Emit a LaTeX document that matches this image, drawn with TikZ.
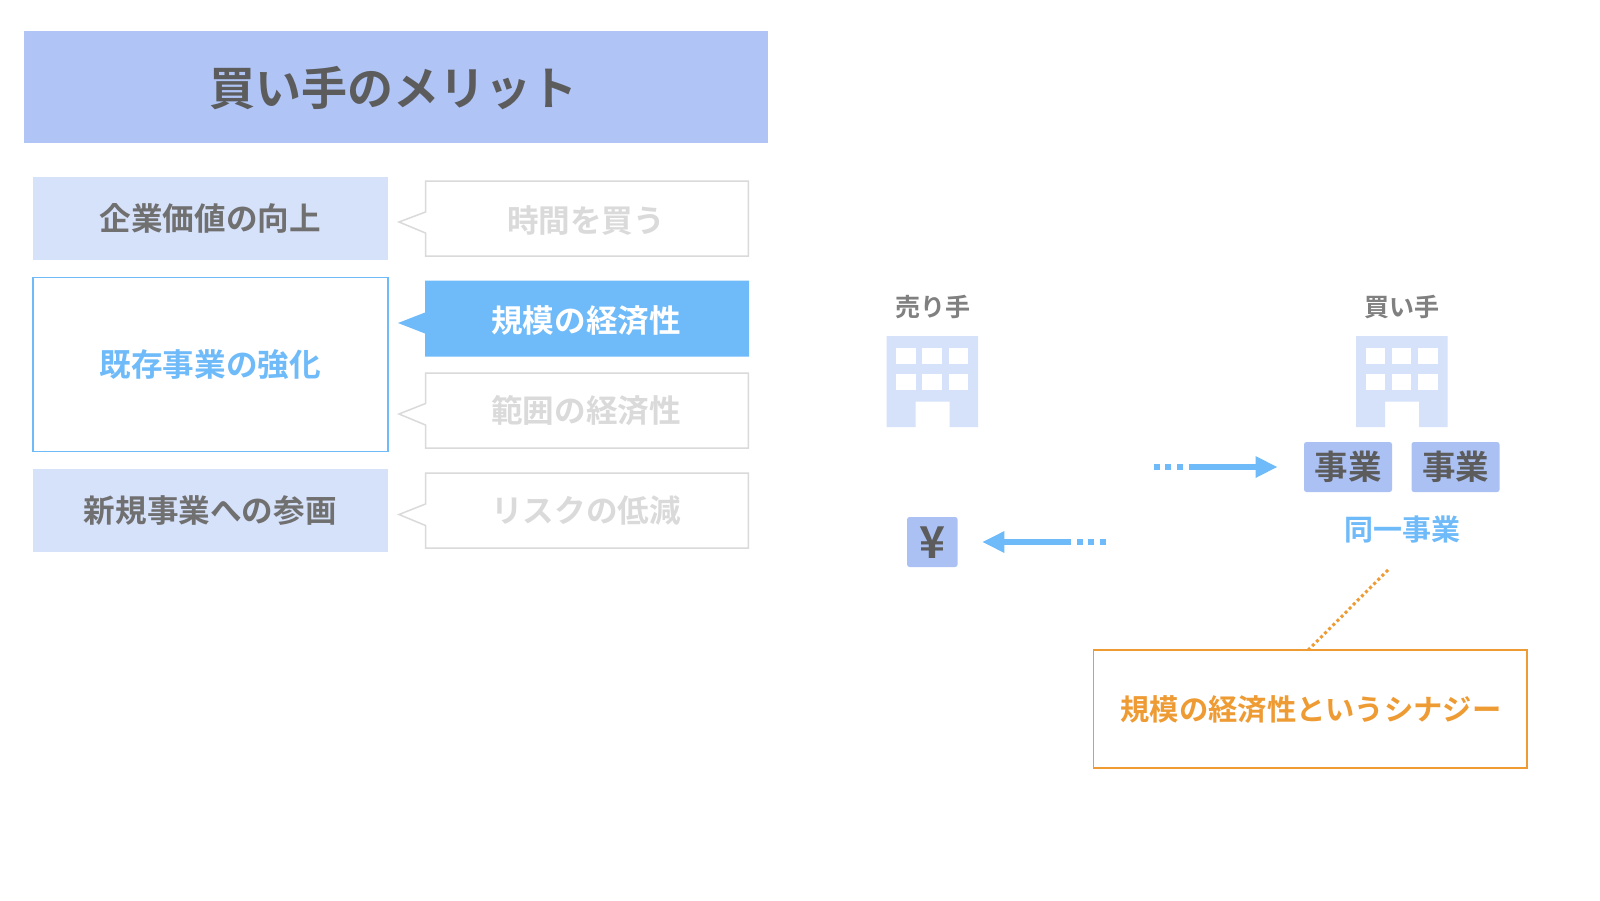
\documentclass[tikz,border=0pt]{standalone}
\usepackage{fontspec}
\setmainfont{Noto Sans CJK JP}[BoldFont={Noto Sans CJK JP Bold}]
\usetikzlibrary{calc}
\definecolor{peri}{HTML}{B0C4F6}
\definecolor{tileblue}{HTML}{ABC1F4}
\definecolor{paleperi}{HTML}{D6E1FA}
\definecolor{sky}{HTML}{6FBBF9}
\definecolor{darkgray}{HTML}{5C5C5C}
\definecolor{midgray}{HTML}{707070}
\definecolor{softgray}{HTML}{808080}
\definecolor{faded}{HTML}{DADADA}
\definecolor{amber}{HTML}{EE9B34}
\tikzset{
  x=1pt,y=-1pt,
  txt/.style={font=\bfseries\fontsize{#1}{#1}\selectfont,inner sep=0pt,outer sep=0pt,text height=0.86*#1pt,text depth=0.1*#1pt},
  flat/.style={rectangle,inner sep=0pt,outer sep=0pt,draw=none},
  callout/.style={draw=faded,line width=1.5pt,fill=white,line join=miter},
  calloutactive/.style={fill=sky,draw=none},
  tile/.style={fill=tileblue,rounded corners=2.5pt,draw=none},
  winglass/.style={fill=white,draw=none},
  shaft/.style={draw=sky,line width=5.6pt},
  tipfill/.style={fill=sky,draw=none},
}
\newcommand{\bldg}[2]{% name, left x
  \fill[paleperi] (#1,336)--(#1+91.5,336)--(#1+91.5,427)--(#1+63,427)--(#1+63,401.5)--(#1+29,401.5)--(#1+29,427)--(#1,427)--cycle;
  \foreach \wx in {9.5,35.5,62}{
    \foreach \wy in {348,374}{
      \fill[winglass] (#1+\wx,\wy) rectangle ++(19.7,16);
    }
  }
}
\begin{document}
\begin{tikzpicture}
\useasboundingbox (0,0) rectangle (1600,900);
\fill[white] (0,0) rectangle (1600,900);
% title
\node[flat,fill=peri,minimum width=743.5pt,minimum height=112pt] (title) at (395.8,87) {};
\node[txt=46,text=darkgray] (titlet) at (393.5,88) {買い手のメリット};
% left column
\node[flat,fill=paleperi,minimum width=355pt,minimum height=83pt] (l1) at (210.3,218.5) {};
\node[txt=31.6,text=midgray] at (l1) {企業価値の向上};
\node[flat,draw=sky,line width=1.5pt,fill=white,minimum width=355pt,minimum height=174pt] (l2) at (210.3,364.5) {};
\node[txt=31.6,text=sky] at (l2) {既存事業の強化};
\node[flat,fill=paleperi,minimum width=355pt,minimum height=83pt] (l3) at (210.3,510.5) {};
\node[txt=31.6,text=midgray] at (l3) {新規事業への参画};
% callouts
\draw[callout] (425.5,181)--(748.4,181)--(748.4,256)--(425.5,256)--(425.5,233)--(399,222)--(425.5,212)--cycle;
\node[txt=31.6,text=faded] (c1) at (586,220) {時間を買う};
\fill[calloutactive] (425,280.5)--(749,280.5)--(749,356.5)--(425,356.5)--(425,333.5)--(398,323)--(425,312.5)--cycle;
\node[txt=31.6,text=white] (c2) at (586,320) {規模の経済性};
\draw[callout] (425.5,373)--(748.4,373)--(748.4,448)--(425.5,448)--(425.5,425)--(399,414)--(425.5,403.5)--cycle;
\node[txt=31.6,text=faded] (c3) at (586,410) {範囲の経済性};
\draw[callout] (425.5,473)--(748.4,473)--(748.4,548)--(425.5,548)--(425.5,525.5)--(399,514.5)--(425.5,504)--cycle;
\node[txt=31.6,text=faded] (c4) at (586,510) {リスクの低減};
% right side
\node[txt=25,text=softgray] (seller) at (932.5,306.5) {売り手};
\node[txt=25,text=softgray] (buyer) at (1401.6,306.5) {買い手};
\bldg{886.5}{}
\bldg{1356}{}
\node[flat,tile,minimum width=88pt,minimum height=50pt] (b1) at (1348,467) {};
\node[txt=33.5,text=darkgray] at (b1) {事業};
\node[flat,tile,minimum width=88pt,minimum height=50pt] (b2) at (1455.5,467) {};
\node[txt=33.5,text=darkgray] at (b2) {事業};
\node[flat,tile,minimum width=50.5pt,minimum height=50pt] (yen) at (932.3,542) {};
\node[txt=44,text=darkgray] at (yen) {¥};
\node[txt=29,text=sky] (same) at (1402,529) {同一事業};
% arrows
\coordinate (ra0) at (1153.6,467);
\coordinate (ra1) at (1188.7,467);
\coordinate (ra2) at (1255.5,467);
\coordinate (ra3) at (1277,467);
\draw[shaft,dash pattern=on 6pt off 5.7pt] (ra0) -- (1183.5,467);
\draw[shaft] (ra1) -- (ra2);
\fill[tipfill] (ra3) -- ($(ra2)+(0,-11)$) -- ($(ra2)+(0,11)$) -- cycle;
\coordinate (la0) at (1106,542);
\coordinate (la1) at (1070.7,542);
\coordinate (la2) at (1004.4,542);
\coordinate (la3) at (982.7,542);
\draw[shaft,dash pattern=on 6pt off 5.7pt] (la0) -- (1076.5,542);
\draw[shaft] (la1) -- (la2);
\fill[tipfill] (la3) -- ($(la2)+(0,-11)$) -- ($(la2)+(0,11)$) -- cycle;
% synergy
\node[flat,draw=amber,line width=1.5pt,fill=white,minimum width=433.5pt,minimum height=118pt] (syn) at (1310.2,709) {};
\node[txt=29.3,text=amber] at (1311,709) {規模の経済性というシナジー};
\coordinate (dotfree) at (1388,570);
\coordinate (dotend) at ($(syn.north)+(-2,0)$);
\draw[amber,line width=3pt,dash pattern=on 3pt off 2.8pt] (dotfree) -- (dotend);
\end{tikzpicture}
\end{document}
